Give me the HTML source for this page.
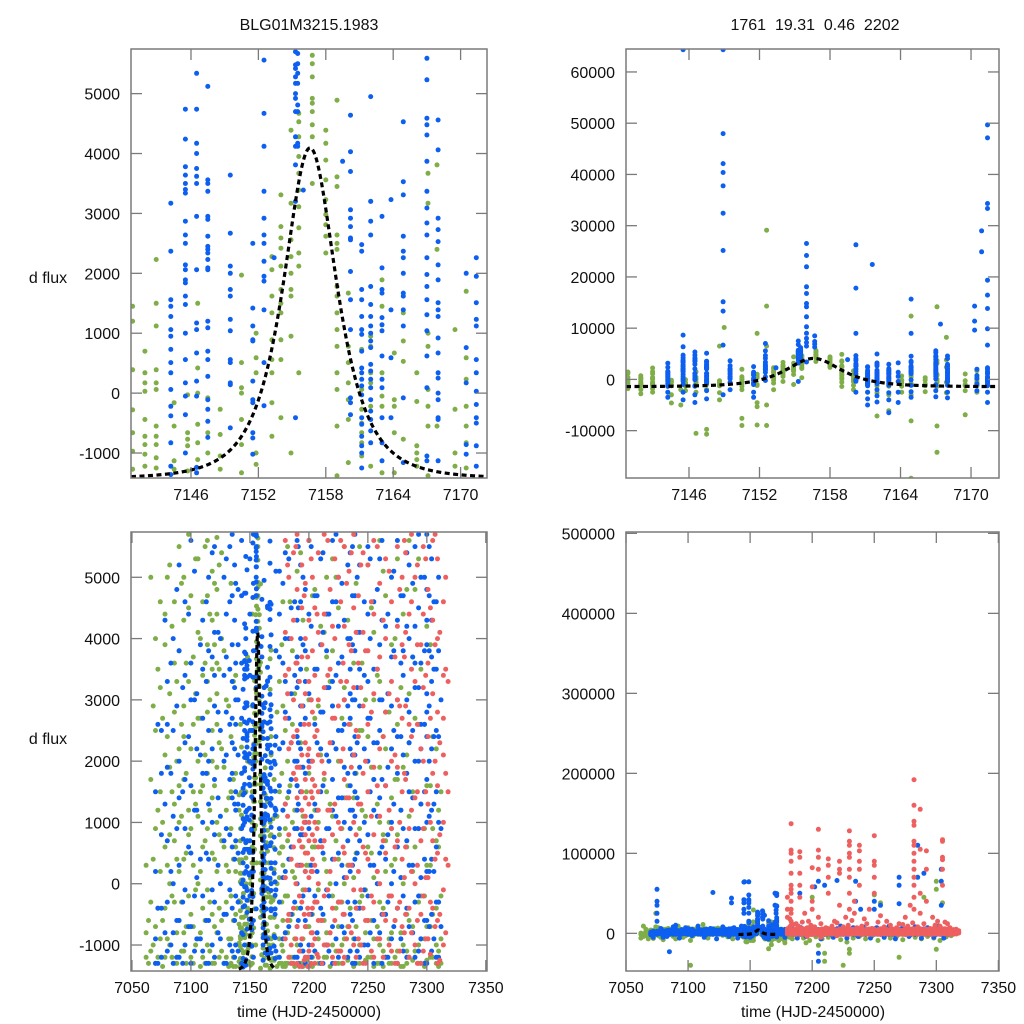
<!DOCTYPE html>
<html><head><meta charset="utf-8"><style>
html,body{margin:0;padding:0;background:#fff;}
svg{display:block;font-family:"Liberation Sans",Arial,sans-serif;}
</style></head><body>
<svg id="chart" width="1024" height="1024" viewBox="0 0 1024 1024" xmlns="http://www.w3.org/2000/svg">
<rect width="1024" height="1024" fill="#fff"/>
<text x="309" y="30" font-size="16" text-anchor="middle" fill="#111">BLG01M3215.1983</text>
<text x="815" y="30" font-size="16" text-anchor="middle" fill="#111" xml:space="preserve">1761  19.31  0.46  2202</text>
<text x="48" y="283" font-size="16" text-anchor="middle" fill="#111">d flux</text>
<text x="48" y="744" font-size="16" text-anchor="middle" fill="#111">d flux</text>
<text x="309" y="1017" font-size="16" text-anchor="middle" fill="#111">time (HJD-2450000)</text>
<text x="813" y="1017" font-size="16" text-anchor="middle" fill="#111">time (HJD-2450000)</text>
<defs>
<clipPath id="c0"><rect x="131" y="49" width="356" height="429"/></clipPath>
<clipPath id="c1"><rect x="626" y="49" width="373" height="429"/></clipPath>
<clipPath id="c2"><rect x="131" y="532" width="356" height="439"/></clipPath>
<clipPath id="c3"><rect x="626" y="532" width="373" height="439"/></clipPath>
</defs>
</svg>
<script>
// ---- top-window data (nights near the peak) ----
const topBlueT = [7144.2,7145.5,7146.5,7147.5,7149.5,7148.9,7151.5,7152.5,7153.4,7155.3,7155.5,7156.0,7156.7,7159.5,7160.2,7161.2,7161.6,7162.0,7163.0,7163.8,7164.9,7167.0,7167.4,7168.0,7170.3,7170.5,7170.9,7171.4];
const topBlueV = [
 [3170,2370,1560,1450,1280,1060,950,730,510,340,60,-220,-380,-830,-1220,-1360,-2500,-3500],
 [4740,4240,3780,3640,3500,3400,3340,2870,2640,2500,2140,2060,1890,1840,1620,1480,1000,560,170,-50,-360,-1000,64350,8650,6370,-2500,-4000],
 [5340,4740,4170,4000,3750,3620,3500,2950,2060,1170,1060,670,200,-50,-1240,-1330,-3000,-4500],
 [5120,3560,3500,3370,2950,2900,2620,2450,2400,2340,2230,2090,2060,1200,1090,700,560,280,-110,-270,-470,-740,-2200,-3800],
 [3640,2670,2120,2000,1730,1620,1230,1040,560,510,170,140,-580,-2000],
 [64350,47970,42120,40370,37770,32440,25160,15150,13330,6700,-3000],
 [2500,1420,1120,890,870,200,-110,-160,-660,-750,-1020,-2500,-3500],
 [5560,4670,4120,3370,2920,2640,2500,2200,1950,1870,1390,510,-210,7000],
 [2260],
 [5700,5480,5420,5280,5170,5000,4920,4700,4280,4120,3810,3200,-410,7500,6800],
 [5670,5500,5340,5170,4810,4700,4170,4120,6200,5900],
 [3390,26520,24180,21970,18070,16770,14820,14170,12220,10270,9000,8000,7200,6500],
 [8500,7400,6900,6300],
 [3870],
 [4640,4030,3700,3060,2920,2780,2590,2560,2030,1560,1060,-80,-160,-360,26260,17810,8970,-2500],
 [2480,2370,1730,1560,1280,1060,980,700,420,340,230,120,-30,-410,-520,-720,-880,-1000,-1250,-2500,-3800,-5000],
 [22425],
 [4950,3200,2870,2640,1780,1480,1280,1120,1000,870,760,480,370,230,90,-110,-300,-440,-630,-830,-2000,-3200,-4400],
 [2950,2090,1730,1670,1260,1140,1040,620,230,90,-410,-830,-1130,-2600,-4000,-6500],
 [3230,1390,590,-410,-2500,-4500],
 [4530,3530,3310,2620,2370,2260,2000,1670,1620,1390,1120,-80,-1160,15665,8970,-2400,-3500],
 [5590,5230,4590,4480,4310,3870,3370,3090,2840,2640,2260,1980,1780,1560,1310,1040,620,90,-1050,-1130,-2200,-3400],
 [10790],
 [4560,4060,2920,2730,2530,2140,1890,1510,1390,1280,920,670,340,250,0,-110,-410,-440,-1130,-2500,-3600],
 [14300,11375,9620],
 [2000,760,170,-860,-1020,-2200],
 [28990,24900],
 [2260,1950,1510,1230,1120,560,340,30,-190,-410,-500,-880,-1220,49660,47125,34320,33345,19370,16445,13845,9880,6700,-2500,-4500]
];
const topGreenT = [7140.8,7141.9,7142.9,7144.5,7145.3,7145.7,7146.6,7147.5,7148.6,7149.0,7150.5,7151.8,7152.6,7153.2,7154.0,7154.9,7155.6,7156.8,7158.0,7159.0,7160.0,7161.2,7162.0,7163.0,7164.1,7164.9,7166.1,7167.1,7167.9,7169.5,7170.5];
const topGreenV = [
 [1450,1200,390,-280,-660,-970,-1270,-1800],
 [700,340,170,30,-440,-720,-860,-1020,-1220,-2000,-2800],
 [2230,1500,1120,390,170,60,-550,-720,-860,-1080,-1250,-1800,-2500],
 [-160,-550,-1130,-1270,-4600,-3000],
 [-5000,-2000],
 [-30,-660,-770,-880,-1300,-2200],
 [1500,420,0,-520,-830,-1110,-10530,-2500],
 [-80,-660,-1000,-9750,-10700,-2000],
 [-270,-690,-1050,-1270,6500,-2600,-4000],
 [10140],
 [1970,510,90,0,-440,-860,-1330,-7600,-9000,-2000],
 [1000,590,340,-1000,-1190,8970,-4550,-5330,-8900],
 [29120,14300,6500,-5000,-9000],
 [2280,2060,1620,1340,890,560,340,-160,-720,-2000],
 [3310,2780,2590,2420,2120,1730,1500,1340,890,560,-410],
 [4390,3170,2560,2280,2000,1730,1620,950,-1000],
 [4670,4530,4280,3950,3670,3390,3110,2760,2340,2120,340],
 [5640,5500,5280,4920,4840,4700,4480,4280,3500],
 [4390,4170,3890,3560,3230,2980,2810,2620,2340],
 [4890,3610,3450,2640,2500,2400,1780,1620,1340,1060,780,340,60,-550,-1380],
 [1670,780,510,170,-110,-440,-1160,-2000],
 [730,60,-270,-500,-660,-830,-1050,-2500],
 [3200,950,780,340,170,-220,-1220,-7150,-2600],
 [1890,1450,340,-50,-220,-1330,-6100,-3000],
 [670,-110,-220,-660,-1330,-2500],
 [1340,870,530,-770,12350,-8100,-19300,-3000],
 [340,-140,-880,-1000,-1110,-1220,-2400],
 [3670,3170,1000,780,60,-220,-550,-1380,14170,-9100,-14230],
 [3810,2400,-550,8190,-2600],
 [1060,-270,-1000,-1220,-6900,-2200],
 [1700,590,230,-220,-550,-830,-1250,-2500]
];
// ---- full-season data (additional nights) ----
const botGreenT = [7062,7066,7070,7074,7078,7082,7086,7090,7094,7098,7102,7106,7110,7114,7118,7122,7126,7130,7134,7138,7175,7178,7182,7186,7190,7195,7200,7205,7210,7215,7220,7225,7230,7235,7240,7245,7250,7255,7260,7265,7270,7275,7280,7285,7290,7295,7300,7305,7310];
const botGreenV = [
 [-1200,300,-800,-6000],[1700,-300,-1100,-3000,5000],[4000,2500,900,-700,-1300,-4000],[4600,3200,1500,200,-900,8000,25000],
 [3900,2100,600,-400,-1200,4400,-5000],[5200,3100,1900,800,0,-1000,-2500],[4600,2800,1300,700,-300,-1300,3600],
 [5500,3800,2200,1000,200,-600,1600,-7000],[4300,2900,1700,400,-800,-1100,5000,2400],[5700,4500,3300,1200,-200,800,-3000],
 [3700,2600,1500,300,-700,-1300,-9000,-40000],[5300,4100,2000,1100,0,-900,2700],[3400,2300,1600,600,-400,-1200,4600],
 [5600,4700,3900,2800,1800,900,-100,-1000,3300],[5100,4300,3500,2500,1400,500,-500,-1300,2000],
 [5650,4800,4400,3600,2600,1900,1000,200,-800,3100],[4000,2200,700,-600,-1100,5400],[3000,1200,-300,-1200,300],
 [2400,900,-200,-900,-1300,1500,4900],[1800,600,-500,-1000,-1350,200,3400],
 [3300,1500,500,-300,-900,-1300,-4000,-6000,800,100],[4600,2900,1200,300,-600,-1100,-1350,-8000,-12000,600],
 [5500,2000,700,-200,-800,-1300,1400,-5000],[3800,1000,-500,-1200,200,2600],[5100,2400,900,-400,-1000,1600],
 [4300,1100,-100,-900,-1350,600,-12000],[5600,3000,1800,300,-700,-1200,45000],[4800,2700,1200,-300,-1100,600,-15000],
 [4200,2100,700,-600,-1300,-35000,-25000],[3700,1500,200,-800,-1200,5000],[5300,2900,1100,-200,-1000,3800],
 [4500,2000,400,-700,-1300,-40000],[3200,1400,0,-900,5500,-20000,-25000],[2600,900,-400,-1100,4000],
 [4900,1800,500,-700,-1300],[3600,1200,-200,-1000,2500],[5200,2400,600,-600,-1200,48000],
 [4100,1700,100,-900,-1350,3000,38000],[3300,1000,-300,-1000,-1300,5600,1900],[4700,2200,700,-500,-1200,200],
 [3900,1400,300,-800,-1300,-30000,900],[5300,2600,800,-400,-1100,1700],[4400,1900,0,-1000,-1350],
 [5600,3100,1100,-600,-1200,2300],[4800,2700,600,-300,-1100,45000],[3500,1300,-200,-900,-1300],
 [4200,1600,300,-700,-1250,65000,55000,-20000],[2400,900,-500,-1200,38000],[1200,-300,-1100,-1350,600]
];
const botGreen2T = [7064,7068,7072,7076,7080,7084,7088,7092,7096,7100,7104,7108,7112,7116,7120,7124,7128,7132,7136,7142,7148,7152,7168,7173,7177,7180,7184,7188,7193,7198,7203,7208,7213,7218,7223,7228,7233,7238,7243,7248,7253,7258,7263,7268,7273,7278,7283,7288,7293,7298,7303,7308,7312];
const botGreen2V = [
 [-600,-1300,-4000,9000],[2900,400,-1000,-7000],[3500,1200,-400,-1200,-6500],[2700,1000,-600,-1350,7000,-3000],
 [5000,2400,300,-900,-8000],[4200,1500,-200,-1200,6000],[3300,2000,400,-800,-1300,-4000],[4900,2600,1100,-300,-1100,9000],
 [3600,1800,500,-700,-1300,-5000],[4700,2200,900,-500,-1200,7000],[5300,3100,1300,-100,-1000,-3500],[4000,2700,1500,200,-800,-1350],
 [5500,3600,2100,700,-600,-1300,11000],[4400,3000,1200,-300,-1100,-6000],[4900,3900,2900,1600,400,-700,-1300],
 [5200,3500,2300,800,-400,-1200,6500],[3800,1900,600,-500,-1300,-2500],[2900,1400,200,-900,-1350,-4500],
 [3300,1700,400,-600,-1200,-1350,-7000],[2600,900,-300,-900,-1300,-1350,-3000],[3700,2000,700,-400,-1000,-1300,-5000],
 [4400,2900,1500,600,-200,-800,-1300],[2100,800,-300,-900,-1250,-3500],[2800,1100,0,-700,-1200,-1350,-6000,-9000],
 [3900,1800,600,-300,-1000,-1300,-5000,-8000],[2500,900,-200,-800,-1300,-1350,-4000],[4600,1600,400,-600,-1200,-7000],
 [3100,1200,100,-900,-1350,-3000],[5400,2300,800,-400,-1100,-1300,-6000],[3500,1500,300,-700,-1250,-9000],
 [4700,2000,600,-500,-1200,-1350,-4500],[2900,1000,-100,-900,-1300,-7000],[4100,1700,400,-600,-1200,-5000],
 [3300,1300,0,-800,-1350,-3000],[5000,2200,700,-400,-1100,-1300,-8000],[2700,900,-300,-1000,-1300,-11000],
 [4300,1600,300,-700,-1250,-6000],[3600,1400,100,-900,-1350,-4000],[5500,2500,900,-300,-1000,-1300,-7000],
 [3000,1100,-100,-800,-1250,-3500],[4500,1900,500,-600,-1200,-9000],[3400,1300,200,-700,-1300,-5000],
 [5100,2400,800,-400,-1100,-1350,-6000],[2800,1000,-200,-900,-1300,-4000],[4000,1700,400,-600,-1200,-8000],
 [3200,1200,100,-800,-1350,-3000],[4800,2100,600,-500,-1100,-1300,-5000],[3700,1500,200,-700,-1250,-7000],
 [5300,2600,900,-300,-1000,-1300,-4000],[2600,900,-200,-900,-1350,-6000],[3900,1600,300,-700,-1200,-9000],
 [2200,700,-400,-1000,-1300,-4500],[1500,-200,-900,-1300,-3000]
];
const botBlueT = [7070,7075,7080,7085,7090,7095,7100,7105,7110,7115,7120,7125,7130,7135,7138,7145,7160,7170,7175,7180,7185,7190,7193,7197,7202,7205,7210,7215,7220,7225,7230,7235,7239,7243,7250,7255,7260,7265,7270,7275,7280,7285,7290,7295,7300,7304,7308,7312];
const botBlueV = [
 [1500,200,-900,-1300,-2000],[55000,40000,35000,25000,15000,2500,800,-400,-1200,1800],[3300,1900,700,-300,-1100,2600,-5000],
 [2500,1100,0,-800,-1300,-23000,4000],[3800,2000,1400,300,-600,-1200,10000,5200],[4600,3400,2300,900,-100,-1000,1700],
 [5600,3600,1600,500,-700,-1300,3000],[3100,1200,100,-900,2200],[4300,2700,1000,-200,-1100,3500,1800],
 [5000,3800,2500,1300,400,-600,-1300,2000],[51000,5500,4100,2900,1700,800,-300,-1200,3400],[4000,2500,1100,0,-900],
 [5300,3700,2100,900,-500,-1300,2800,4400],[44000,38000,5700,4700,3300,2300,1400,600,-400,-1100,1800,2700,3900],
 [4900,3600,2600,1500,700,-200,-1000,3000,1200],[64000,42000,38000,30000,25000],[28000,24000,20000],[50000,35000],
 [5100,3700,2200,900,-300,-1200,1600,4400],[5400,4000,2800,1300,200,-800,3300],[4500,3100,1700,600,-500,-1300,2300],
 [50000,5600,4300,3200,2400,1600,900,0,-700,-1200,3700,1200,2000],[5200,4600,4000,3500,2900,2200,1500,800,300,-400,-1000,1900,2600],
 [4800,3800,2700,1800,1000,200,-600,-1300,3300],[5500,4200,3000,2000,1100,300,-500,-1200,58000],
 [65000,-25000,-35000,4700,2600,1300,-200,-1100,3500],[60000,5300,3900,2800,1500,700,-400,-1300,2200],
 [4400,3200,2100,900,-100,-1000,3800],[66000,5600,4600,3300,2300,1200,400,-700,-1300,2900,1700],
 [5000,3600,2500,1400,500,-300,-1200,4200],[4300,3000,1900,1000,100,-800,2600],
 [65000,40000,5400,4000,3100,2200,1600,900,200,-500,-1100,2700,3500,1200],
 [30000,5700,4700,3800,3000,2400,1800,1100,400,-300,-900,-1300,2100,1500],[5200,4100,2900,1900,700,-400,-1200,3500],
 [40000,30000,5500,4400,3300,2000,800,-200,-1000,2700],[35000,4600,3500,2300,1200,300,-600,-1300,1700],
 [5300,3900,2500,1400,500,-800,3000],[4200,2800,1600,400,-500,-1200],[70000,60000,37000,5000,3700,2200,1000,0,-900,2900],
 [5600,4300,3000,1800,600,-400,-1300,2400],[4700,3400,2100,900,-200,-1100,3800],[110000,70000,5200,4000,2800,1500,300,-700,2300],
 [75000,5500,4200,3200,2000,900,-300,-1200,3600],[5000,3600,2600,1300,100,-900,2200],
 [5700,4800,3900,3100,2400,1700,1000,200,-600,-1300,4300,2800],[80000,65000,35000,5300,4300,3300,2200,1200,400,-500,-1100,3700],
 [4600,3500,2500,1500,600,-300,-1200],[3000,900,-700]
];
const botBlue2T = [7072,7078,7083,7088,7093,7098,7103,7108,7113,7118,7123,7128,7133,7137,7140,7143,7150,7153,7165,7172,7178,7183,7188,7191,7195,7200,7207,7212,7217,7223,7228,7233,7237,7241,7247,7252,7258,7262,7267,7272,7278,7283,7288,7293,7298,7302,7306,7310];
const botBlue2V = [
 [2600,-400,-1300,-5000],[4300,1300,-800,6000],[3600,1800,200,-1000,-4000],[4800,2900,900,-600,-1200,8000],
 [3200,1500,-300,-1300,-6000],[4400,2400,600,-700,7000],[5100,3000,1200,-200,-1100,-3000],[3900,2100,400,-900,9000],
 [4600,3300,1800,500,-600,-1300,-5000],[5400,3700,2200,1000,-100,-1000,6000],[4100,2800,1400,300,-800,-7000],
 [5000,3400,2000,700,-500,-1300,8000],[5500,4600,3500,2600,1700,800,-100,-1000,-4000],[5200,4300,3200,2200,1300,400,-600,-1200,7000],
 [4800,3900,3000,2100,1300,500,-300,-1100,-6000],[5600,4700,3600,2700,1800,900,0,-800,-1300,9000],
 [5300,4400,3400,2500,1600,700,-200,-1000,-5000],[5700,4900,3800,2900,2000,1100,200,-600,-1200,8000],
 [4500,3300,2200,1100,100,-900,-7000],[5100,3800,2400,1200,-100,-1100,6000],
 [4900,3600,2300,1200,100,-900,-5000],[5300,4000,2700,1500,400,-700,9000],[4600,3400,2000,900,-300,-1200,-6000],
 [5500,4500,3300,2300,1300,300,-600,-1300,7000],[5000,3900,2900,1900,800,-200,-1100,-4000],[5600,4400,3100,2000,900,-100,-1000,8000],
 [4700,3500,2300,1200,200,-800,-7000],[5400,4100,2800,1600,500,-500,-1300,6000],[4400,3200,2000,900,-200,-1100,-5000],
 [5700,4600,3400,2200,1100,0,-900,9000],[4900,3700,2500,1400,300,-700,-6000],[5200,4000,2900,1800,700,-300,-1200,7000],
 [5500,4700,3900,3000,2100,1200,300,-600,-1300,-4000],[5000,4100,3200,2300,1400,500,-400,-1100,8000],
 [4600,3400,2200,1000,-100,-1000,-6000],[5300,4000,2700,1500,300,-800,7000],[4800,3500,2300,1100,0,-900,-5000],
 [5600,4300,3000,1700,600,-500,-1300,9000],[4400,3100,1900,800,-300,-1200,-7000],[5100,3800,2500,1300,200,-700,6000],
 [4700,3600,2400,1200,100,-900,-4000],[5400,4200,3000,1800,700,-400,-1200,8000],[4900,3700,2500,1400,300,-800,-6000],
 [5700,4500,3200,2000,900,-200,-1100,7000],[5000,3800,2600,1500,400,-600,-1300,-5000],[5500,4700,3800,2900,2000,1100,200,-700,9000],
 [4600,3500,2400,1300,200,-900,-6000],[3800,2400,1000,-300,-1200,5000]
];
const botRedT = [7180,7183,7187,7190,7194,7197,7200,7203,7205,7208,7213,7218,7222,7227,7230,7234,7238,7242,7246,7250,7255,7260,7265,7270,7275,7279,7282,7287,7292,7297,7301,7305,7309,7314,7318];
const botRedV = [
 [5600,4100,2700,1300,100,-900,3400,20000,30000,45000],
 [137000,104000,100000,90000,75000,60000,55000,50000,40000,30000,25000,15000,10000,5000,3500,2200,800,-500,-1200],
 [5400,4300,3000,1800,600,-400,-1300,2400,12000],
 [102000,95000,75000,60000,45000,5700,4800,3600,2500,1400,300,-700,-1300,1900],
 [5200,4500,3700,2900,2100,1500,900,300,-300,-900,-1350,600,1200,25000],
 [4900,4000,3100,2300,1700,1100,500,-100,-700,-1200,1400,800,200,15000],
 [82000,58000,40000,30000,5600,4300,3300,2600,1900,1300,700,100,-500,-1100,-1350,2200,1000],
 [5000,3800,2800,2000,1400,800,200,-400,-1000,1700,400,-800],
 [130000,104000,95000,80000,20000,4500,3400,2400,1600,1000,300,-300,-900,-1300,700],
 [5400,4100,3000,2100,1200,600,0,-600,-1200,1500],
 [93000,85000,70000,50000,5700,4400,3200,1800,700,-200,-1000],
 [4800,3500,2300,1200,200,-800,15000],
 [90000,80000,75000,35000,5300,4000,2700,1300,400,-600,-1300],
 [5600,4600,3300,2000,900,-300,-1100,20000],
 [128000,115000,110000,100000,95000,80000,70000,50000,30000,5500,4200,3000,1700,500,-500,-1200],
 [5100,3900,2600,1400,300,-700,25000,40000],
 [110000,103000,90000,80000,60000,5700,4500,3200,2100,1000,-100,-1000],
 [4700,3600,2400,1300,200,-900,18000],
 [5400,4100,2900,1800,600,-400,-1300,30000],
 [122000,90000,85000,70000,50000,5200,3800,2600,1500,400,-600],
 [5600,4400,3100,1900,800,-300,-1200,22000],
 [4900,3700,2200,1100,0,-900,15000],
 [5300,4000,2800,1600,500,-600],
 [4600,3300,2000,900,-200,-1100,12000],
 [5500,4200,3000,1900,700,-400,-1300,20000],
 [5000,3900,2700,1500,400,-700,35000],
 [192000,160000,140000,135000,115000,110000,100000,90000,80000,70000,60000,45000,30000,5400,4100,2900,1700,600,-500],
 [155000,105000,50000,5700,4600,3500,2400,1200,200,-800,25000],
 [103000,80000,40000,5200,3900,2600,1500,300,-600,-1300],
 [5500,4400,3200,2000,900,-200,-1100,20000],
 [4800,3600,2400,1300,100,-900,15000],
 [117000,115000,95000,92000,80000,60000,5600,4300,3100,1800,700,-400],
 [5300,4000,2800,1600,500,-600,-1300,12000],
 [4600,3400,2100,1000,-100,-1000,2700],
 [3300,1500,300]
];
const botRed2T = [7182,7185,7189,7192,7196,7199,7202,7207,7211,7216,7220,7225,7229,7232,7236,7240,7244,7248,7253,7258,7263,7268,7273,7277,7281,7285,7290,7295,7299,7303,7307,7311,7316];
const botRed2V = [
 [5200,3100,1100,-600,8000,18000],[4000,2300,400,-1000,-1300,11000],[5500,3600,1700,0,-900,9000],
 [3300,1900,700,-200,-1100,-1350,6000,14000],[4700,2600,1000,-500,-1250,-4000,7000],[3700,2100,500,-400,-1200,-1350,10000],
 [5300,3000,1500,200,-800,-1300,8000],[4400,2500,900,-300,-1150,-5000,12000],[3900,2000,600,-600,-1300,7000],
 [5600,3400,1200,-100,-1000,9000],[4200,2700,800,-400,-1200,-3000,13000],[5000,2900,1000,-300,-1100,8000],
 [3600,2200,600,-500,-1300,10000],[4900,3300,1400,100,-900,16000],[5400,3800,1900,300,-800,7000],
 [4100,2500,800,-400,-1200,9000],[5200,3200,1300,-100,-1000,12000],[3800,2000,500,-600,-1300,6000],
 [4600,2800,1100,-200,-1100,14000],[5500,3500,1600,200,-900,8000],[4300,2400,700,-500,-1200,10000],
 [5100,3100,1200,-200,-1000,7000],[3700,2100,600,-600,-1300,11000],[4800,2900,1000,-300,-1100,9000],
 [5600,3700,1800,100,-800,13000],[4400,2600,900,-400,-1200,8000],[5000,3300,1400,0,-1000,12000],
 [3900,2200,700,-500,-1300,6000],[5300,3400,1500,100,-900,10000],[4500,2700,1000,-300,-1150,9000],
 [5700,3900,2000,400,-700,14000],[4100,2300,800,-500,-1250,7000],[3500,1800,400,-800,5000]
];
// ---- PSPL model parameters & tick labels ----
const modelParams = [7156.6, 3.06, 1.0, 16170, -1430]; // t0, tE, u0, Fs, Fb
const modelRange = [7140.6, 7172.4];
const topXTicks = [7146,7152,7158,7164,7170];
const botXTicks = [7050,7100,7150,7200,7250,7300,7350];
const topLeftYTicks = [-1000,0,1000,2000,3000,4000,5000];
const topRightYTicks = [-10000,0,10000,20000,30000,40000,50000,60000];
const botLeftYTicks = [-1000,0,1000,2000,3000,4000,5000];
const botRightYTicks = [0,100000,200000,300000,400000,500000];

const NS = 'http://www.w3.org/2000/svg';
const svg = document.getElementById('chart');
const COL = {green:'#7fad48', blue:'#0d5ff0', red:'#ee5f5f'};

function mk(tag, attrs, parent){
  const e = document.createElementNS(NS, tag);
  for (const k in attrs) e.setAttribute(k, attrs[k]);
  (parent||svg).appendChild(e);
  return e;
}
function modelFlux(t){
  const [t0,tE,u0,Fs,Fb] = modelParams;
  const tau=(t-t0)/tE, u=Math.sqrt(u0*u0+tau*tau);
  const A=(u*u+2)/(u*Math.sqrt(u*u+4));
  return Fs*(A-1)+Fb;
}

function panel(p){
  const sx = v => p.x0 + (v - p.xd[0])/(p.xd[1]-p.xd[0])*(p.x1-p.x0);
  const sy = v => p.y1 - (v - p.yd[0])/(p.yd[1]-p.yd[0])*(p.y1-p.y0);
  const g = mk('g', {});
  
  
  const pg = mk('g', {'clip-path':'url(#'+p.clip+')'}, g);
  
  
  p.series.forEach(s => {
    const sg = mk('g', {fill:COL[s.color]}, pg);
    
    
    s.T.forEach((t,i) => {
      if (t < p.xd[0] || t > p.xd[1]) return;
      s.V[i].forEach(v => {
        const y = sy(v);
        if (y < p.y0-4 || y > p.y1+4) return;
        const c = mk('circle', {cx:sx(t).toFixed(1), cy:y.toFixed(1), r:2.5}, sg);
        
        
      });
    });
  });
  // model curve (only over the event window)
  let d='';
  const a = Math.max(p.xd[0], modelRange[0]), b = Math.min(p.xd[1], modelRange[1]);
  const step=(b-a)/800;
  for (let t=a; t<=b; t+=step){
    d += (d?'L':'M') + sx(t).toFixed(2)+','+sy(modelFlux(t)).toFixed(2);
  }
  const path = mk('path', {d:d, fill:'none', stroke:'#000', 'stroke-width':3.2, 'stroke-dasharray':'5,3.5'}, pg);
  
  
  // frame
  const fr = mk('rect', {x:p.x0, y:p.y0, width:p.x1-p.x0, height:p.y1-p.y0, fill:'none', stroke:'#7a7a7a', 'stroke-width':1.5}, g);
  
  
  const tk = mk('g', {stroke:'#7a7a7a', 'stroke-width':1.3}, g);
  
  
  const lb = mk('g', {'font-size':16, fill:'#111'}, g);
  
  
  p.xt.forEach(v => {
    const x = sx(v);
    mk('line', {x1:x, y1:p.y1, x2:x, y2:p.y1-11}, tk);
    mk('line', {x1:x, y1:p.y0, x2:x, y2:p.y0+11}, tk);
    const t = mk('text', {x:x, y:p.y1+22, 'text-anchor':'middle'}, lb);
    t.textContent = v;
    
    
  });
  p.yt.forEach(v => {
    const y = sy(v);
    mk('line', {x1:p.x0, y1:y, x2:p.x0+11, y2:y}, tk);
    mk('line', {x1:p.x1, y1:y, x2:p.x1-11, y2:y}, tk);
    const t = mk('text', {x:p.x0-11, y:y+6, 'text-anchor':'end'}, lb);
    t.textContent = v;
    
    
  });
}

const topSeries = [
  {color:'green', T:topGreenT, V:topGreenV},
  {color:'blue', T:topBlueT, V:topBlueV}
];
const botSeries = [
  {color:'green', T:topGreenT, V:topGreenV},
  {color:'green', T:botGreenT, V:botGreenV},
  {color:'green', T:botGreen2T, V:botGreen2V},
  {color:'blue', T:topBlueT, V:topBlueV},
  {color:'blue', T:botBlueT, V:botBlueV},
  {color:'blue', T:botBlue2T, V:botBlue2V},
  {color:'red', T:botRedT, V:botRedV},
  {color:'red', T:botRed2T, V:botRed2V}
];
panel({name:'top-left-panel', clip:'c0', x0:131, x1:487, y0:49, y1:478, xd:[7140.66,7172.35], yd:[-1417,5745], xt:topXTicks, yt:topLeftYTicks, series:topSeries});
panel({name:'top-right-panel', clip:'c1', x0:626, x1:999, y0:49, y1:478, xd:[7140.64,7172.38], yd:[-19240,64480], xt:topXTicks, yt:topRightYTicks, series:topSeries});
panel({name:'bottom-left-panel', clip:'c2', x0:131, x1:487, y0:532, y1:971, xd:[7049.2,7351], yd:[-1424,5739], xt:botXTicks, yt:botLeftYTicks, series:botSeries});
panel({name:'bottom-right-panel', clip:'c3', x0:626, x1:999, y0:532, y1:971, xd:[7050,7350.5], yd:[-47100,501700], xt:botXTicks, yt:botRightYTicks, series:botSeries});
</script>
</body></html>
